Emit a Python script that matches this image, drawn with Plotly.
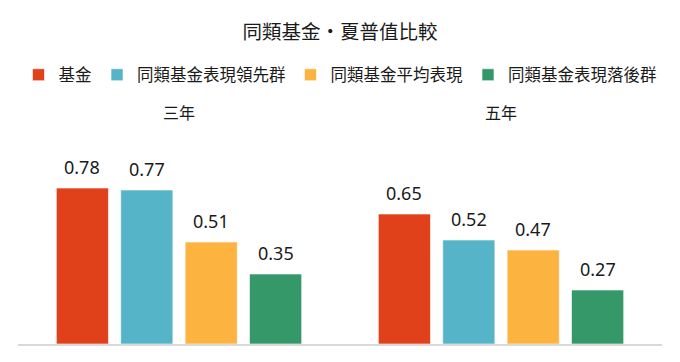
import plotly.graph_objects as go

categories = ["三年", "五年"]
series_names = ["基金", "同類基金表現領先群", "同類基金平均表現", "同類基金表現落後群"]
fund = [0.78, 0.65]
leader = [0.77, 0.52]
average = [0.51, 0.47]
laggard = [0.35, 0.27]
series_values = [fund, leader, average, laggard]
colors = ["#E0401A", "#55B4C7", "#FDB340", "#359868"]
title_text = "同類基金・夏普值比較"

FONT = "Noto Sans, Noto Sans CJK TC, sans-serif"
TEXT = "#1a1a1a"
BARGAP = 0.2

fig = go.Figure()
for name, vals, col in zip(series_names, series_values, colors):
    fig.add_trace(go.Bar(
        x=categories, y=vals, name=name,
        marker=dict(color=col, line=dict(color="rgba(255,255,255,0.6)", width=1)),
        hoverinfo="x+y+name",
    ))

annotations = []
n = len(series_values)
slot = (1 - BARGAP) / n
for j, vals in enumerate(series_values):
    for i, v in enumerate(vals):
        annotations.append(dict(
            x=i + (j - (n - 1) / 2) * slot, xref="x",
            y=v, yref="y", yanchor="bottom", yshift=7,
            text=f"{v:.2f}", showarrow=False,
            font=dict(family=FONT, size=18, color=TEXT),
        ))
for i, c in enumerate(categories):
    annotations.append(dict(
        x=i, xref="x", y=1.155, yref="paper", yanchor="middle",
        text=c, showarrow=False,
        font=dict(family=FONT, size=16, color=TEXT),
    ))

fig.update_layout(
    width=680, height=362,
    margin=dict(l=18, r=18, t=144, b=18),
    paper_bgcolor="white", plot_bgcolor="white",
    barmode="group", bargap=BARGAP, bargroupgap=0.19,
    title=dict(text=title_text, x=0.5, xanchor="center", y=1 - 32 / 362, yanchor="middle",
               yref="container", font=dict(family=FONT, size=19.5, color=TEXT)),
    legend=dict(orientation="h", x=0.5, xanchor="center", y=1.345, yanchor="middle",
                font=dict(family=FONT, size=16.5, color=TEXT), itemwidth=30,
                traceorder="normal"),
    xaxis=dict(showticklabels=False, showline=True, linecolor="#D9D9D9", linewidth=1.5,
               ticks="", showgrid=False, zeroline=False),
    yaxis=dict(range=[0, 1], visible=False, showgrid=False, zeroline=False),
    annotations=annotations,
    showlegend=True,
)

fig.write_html("out.html")
